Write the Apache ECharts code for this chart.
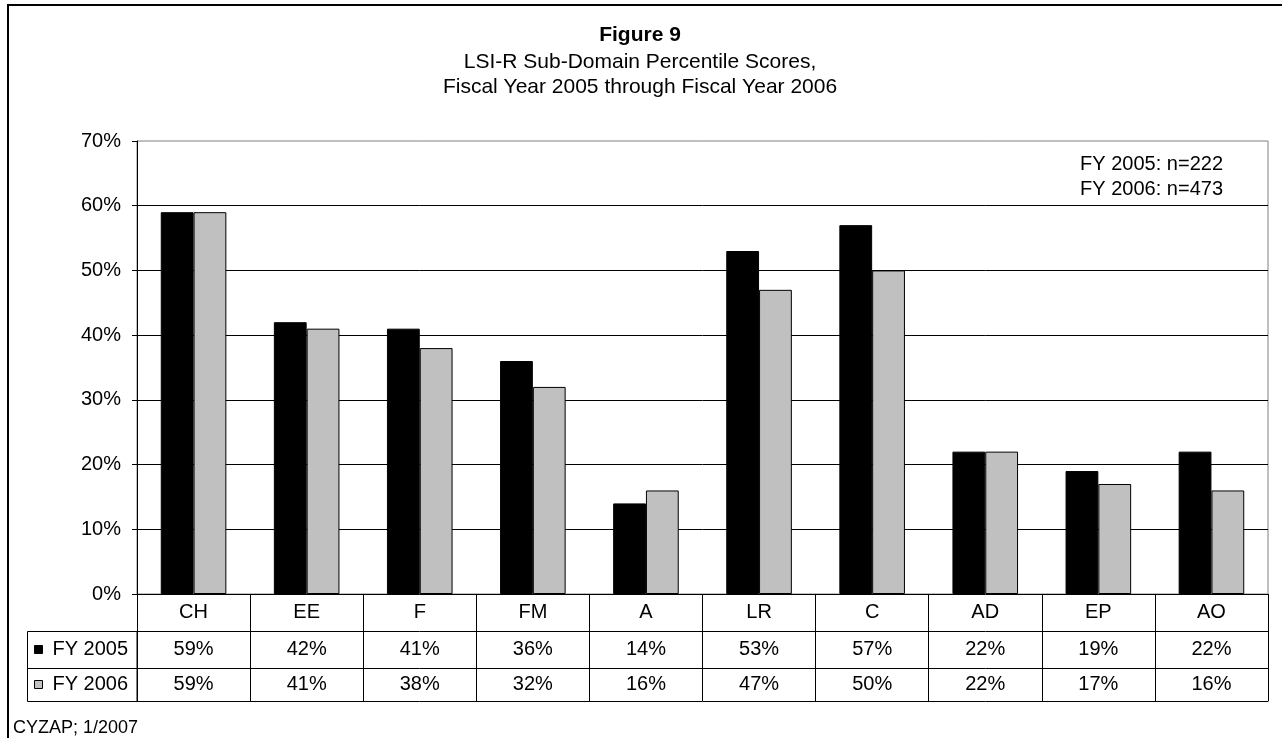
<!DOCTYPE html>
<html>
<head>
<meta charset="utf-8">
<script src="https://cdn.jsdelivr.net/npm/echarts@6/dist/echarts.min.js"></script>
<style>
  html, body { margin: 0; padding: 0; background: #fff; }
  #chart { width: 1282px; height: 738px; }
</style>
</head>
<body>
<div id="chart"></div>
<script>
// LSI-R sub-domain percentile scores by fiscal year
const categories = ['CH', 'EE', 'F', 'FM', 'A', 'LR', 'C', 'AD', 'EP', 'AO'];
const fy2005 = [59, 42, 41, 36, 14, 53, 57, 22, 19, 22];
const fy2006 = [59, 41, 38, 32, 16, 47, 50, 22, 17, 16];
const seriesNames = ['FY 2005', 'FY 2006'];
const sampleSizes = [222, 473];
const yMax = 70;
const yStep = 10;

const FONT = '"Liberation Sans", Arial, sans-serif';
const GRID = { left: 137, right: 14, top: 141, bottom: 144 };
const W = 1282, H = 738;
const ROW1 = 37, ROW2 = 37, ROW3 = 33;   // data-table row heights
const axisBottomY = H - GRID.bottom;

const chart = echarts.init(document.getElementById('chart'), null, { renderer: 'canvas' });

function tableAxis(offset, tickLen, labels, margin) {
  return {
    type: 'category',
    gridIndex: 0,
    position: 'bottom',
    offset: offset,
    data: categories,
    boundaryGap: true,
    axisLine: { show: true, lineStyle: { color: '#000', width: 1 } },
    axisTick: { show: tickLen > 0, alignWithLabel: false, interval: 0, length: tickLen,
                lineStyle: { color: '#000', width: 1 } },
    axisLabel: {
      show: !!labels, interval: 0, margin: margin,
      fontFamily: FONT, fontSize: 20, color: '#000', lineHeight: 20,
      formatter: labels ? (v, i) => labels(i) : undefined
    },
    splitLine: { show: false }
  };
}

const barBorder = { borderColor: '#000', borderWidth: 1 };

const option = {
  backgroundColor: '#fff',
  animation: false,
  title: [
    {
      text: 'Figure 9',
      subtext: 'LSI-R Sub-Domain Percentile Scores,\nFiscal Year 2005 through Fiscal Year 2006',
      left: 640, top: 25, textAlign: 'center', itemGap: 4, padding: 0,
      textStyle: { fontFamily: FONT, fontSize: 21, fontWeight: 'bold', color: '#000', lineHeight: 21 },
      subtextStyle: { fontFamily: FONT, fontSize: 21, color: '#000', lineHeight: 25 }
    },
    {
      text: seriesNames.map((n, i) => n + ': n=' + sampleSizes[i]).join('\n'),
      right: 59, top: 152, padding: 0,
      textStyle: { fontFamily: FONT, fontSize: 20, fontWeight: 'normal', color: '#000', lineHeight: 25, align: 'right' }
    },
    {
      text: 'CYZAP; 1/2007',
      left: 13, top: 718, padding: 0,
      textStyle: { fontFamily: FONT, fontSize: 18, fontWeight: 'normal', color: '#000', lineHeight: 20 }
    }
  ],
  legend: {
    orient: 'vertical',
    left: 34, top: axisBottomY + ROW1 + ROW2 / 2 - 10,
    padding: 0, itemGap: 15, itemWidth: 8, itemHeight: 8,
    icon: 'rect',
    selectedMode: false,
    textStyle: { fontFamily: FONT, fontSize: 20, color: '#000', lineHeight: 20, padding: [0, 0, 0, 5] },
    data: [
      { name: seriesNames[0], itemStyle: { color: '#000', borderColor: '#000', borderWidth: 1 } },
      { name: seriesNames[1], itemStyle: { color: '#c0c0c0', borderColor: '#000', borderWidth: 1 } }
    ]
  },
  grid: {
    left: GRID.left, right: GRID.right, top: GRID.top, bottom: GRID.bottom,
    show: true, borderColor: '#808080', borderWidth: 1, backgroundColor: '#fff'
  },
  xAxis: [
    tableAxis(0, ROW1, (i) => categories[i], 8),
    tableAxis(ROW1, ROW2, (i) => fy2005[i] + '%', 8.5),
    tableAxis(ROW1 + ROW2, ROW3, (i) => fy2006[i] + '%', 6.5),
    tableAxis(ROW1 + ROW2 + ROW3, 0, null, 0)
  ],
  yAxis: {
    type: 'value',
    min: 0, max: yMax, interval: yStep,
    axisLine: { show: true, lineStyle: { color: '#000', width: 1 } },
    axisTick: { show: true, length: 5, lineStyle: { color: '#000', width: 1 } },
    axisLabel: { margin: 16, fontFamily: FONT, fontSize: 20, color: '#000', formatter: '{value}%' },
    splitLine: { show: true, showMinLine: false, showMaxLine: false, lineStyle: { color: '#000', width: 1 } }
  },
  series: [
    {
      name: seriesNames[0], type: 'bar', xAxisIndex: 0, data: fy2005,
      barGap: '0%', barCategoryGap: '42%',
      itemStyle: Object.assign({ color: '#000' }, barBorder)
    },
    {
      name: seriesNames[1], type: 'bar', xAxisIndex: 0, data: fy2006,
      barGap: '0%', barCategoryGap: '42%',
      itemStyle: Object.assign({ color: '#c0c0c0' }, barBorder)
    }
  ],
  graphic: [
    // outer chart frame
    { type: 'rect', silent: true, z: 100,
      shape: { x: 8, y: 5, width: W + 20, height: H + 20 },
      style: { fill: null, stroke: '#000', lineWidth: 2 } },
    // legend column of the data table
    { type: 'rect', silent: true, z: 100,
      shape: { x: 27.5, y: axisBottomY + ROW1 + 0.5, width: GRID.left - 27.5, height: ROW2 + ROW3 },
      style: { fill: null, stroke: '#000', lineWidth: 1 } },
    { type: 'line', silent: true, z: 100,
      shape: { x1: 27.5, y1: axisBottomY + ROW1 + ROW2 + 0.5, x2: GRID.left, y2: axisBottomY + ROW1 + ROW2 + 0.5 },
      style: { stroke: '#000', lineWidth: 1 } }
  ]
};

chart.setOption(option);
</script>
</body>
</html>
